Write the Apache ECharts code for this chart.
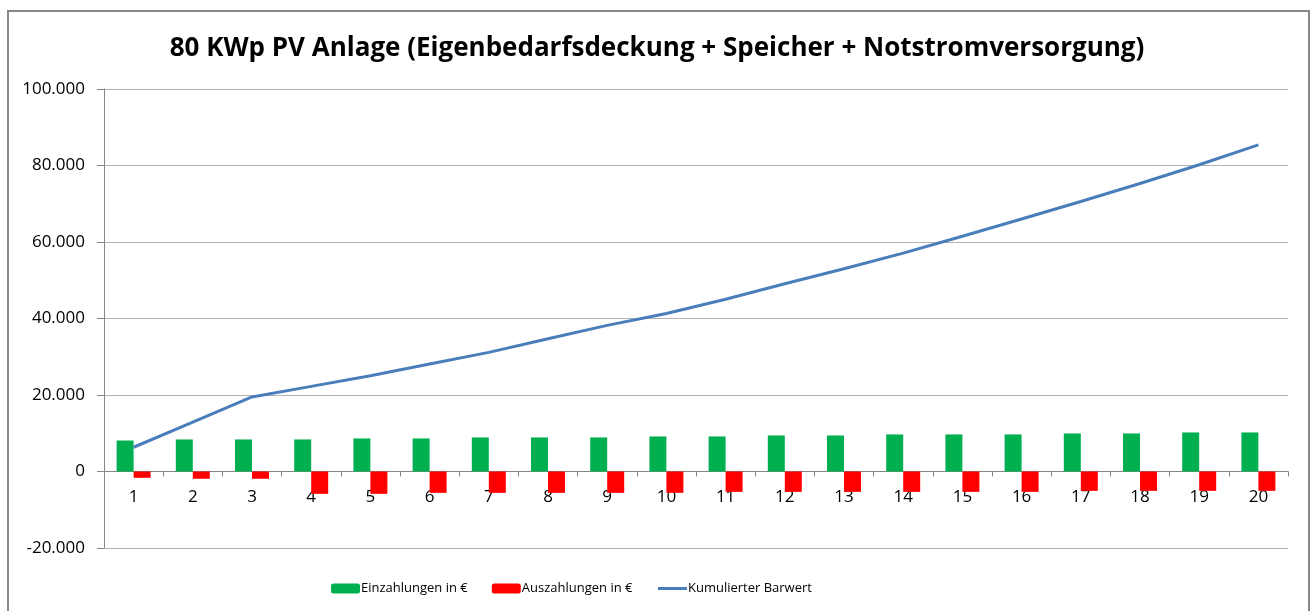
<!DOCTYPE html>
<html>
<head>
<meta charset="utf-8">
<script src="https://cdn.jsdelivr.net/npm/echarts@6/dist/echarts.min.js"></script>
<style>
html,body{margin:0;padding:0;background:#fff;}
#chart{width:1314px;height:611px;}
</style>
</head>
<body>
<div id="chart"></div>
<script>
const titleText = '80 KWp PV Anlage (Eigenbedarfsdeckung + Speicher + Notstromversorgung)';
const categories = ['1','2','3','4','5','6','7','8','9','10','11','12','13','14','15','16','17','18','19','20'];
const einzahlungen = [8100, 8380, 8380, 8380, 8640, 8640, 8900, 8900, 8900, 9160, 9160, 9420, 9420, 9690, 9690, 9690, 9950, 9950, 10210, 10210];
const auszahlungen = [-1650, -1900, -1900, -5840, -5840, -5580, -5580, -5580, -5580, -5580, -5320, -5320, -5320, -5320, -5320, -5320, -5060, -5060, -5060, -5060];
const barwert = [6340, 12900, 19490, 22250, 25050, 28100, 31140, 34700, 38200, 41300, 45050, 49100, 53000, 57100, 61500, 66000, 70600, 75300, 80200, 85400];
const seriesNames = ['Einzahlungen in €', 'Auszahlungen in €', 'Kumulierter Barwert'];
const yMin = -20000, yMax = 100000, yStep = 20000;

function fmt(v){
  const neg = v < 0; let s = String(Math.abs(v));
  s = s.replace(/\B(?=(\d{3})+(?!\d))/g, '.');
  return (neg ? '-' : '') + s;
}
const FONT = "'Open Sans', 'Noto Sans', sans-serif";
const gridTop = 89, gridBottom = 63, H = 611;
const plotH = H - gridTop - gridBottom;
const zeroOffset = -plotH * (0 - yMin) / (yMax - yMin);

const chart = echarts.init(document.getElementById('chart'), null, {renderer:'canvas'});
chart.setOption({
  animation: false,
  backgroundColor: '#ffffff',
  graphic: [{
    type: 'rect', z: -1,
    shape: {x: 8, y: 11, width: 1301, height: 640},
    style: {fill: 'none', stroke: '#878787', lineWidth: 2}
  }],
  title: {
    text: titleText, left: 'center', top: 31,
    textStyle: {fontFamily: FONT, fontWeight: 'bold', fontSize: 26, color: '#000'}
  },
  legend: {
    left: 326, top: 577,
    itemWidth: 29, itemHeight: 10, itemGap: 24,
    textStyle: {fontFamily: FONT, fontSize: 13, color: '#000', padding: [0,0,0,-4]},
    data: [
      {name: seriesNames[0]},
      {name: seriesNames[1]},
      {name: seriesNames[2], itemStyle: {color: 'rgba(0,0,0,0)', borderWidth: 0}, lineStyle: {color: '#4A7EBB', width: 3}}
    ]
  },
  grid: {left: 104, right: 26, top: gridTop, bottom: gridBottom, containLabel: false},
  xAxis: {
    type: 'category', data: categories,
    offset: zeroOffset,
    axisLine: {onZero: false, lineStyle: {color: '#868686', width: 1}},
    axisTick: {show: true, alignWithLabel: false, interval: 0, length: 5, lineStyle: {color: '#868686'}},
    axisLabel: {fontFamily: FONT, fontSize: 17, color: '#000', margin: 17, interval: 0},
    splitLine: {show: false}
  },
  yAxis: {
    type: 'value', min: yMin, max: yMax, interval: yStep,
    axisLine: {show: true, lineStyle: {color: '#868686', width: 1}},
    axisTick: {show: true, length: 7, lineStyle: {color: '#868686'}},
    axisLabel: {fontFamily: FONT, fontSize: 17, color: '#000', margin: 19, formatter: fmt},
    splitLine: {show: true, lineStyle: {color: '#b3b3b3', width: 1}}
  },
  series: [
    {name: seriesNames[0], type: 'bar', data: einzahlungen, barWidth: 17, barGap: '0%',
     itemStyle: {color: '#00B050'}},
    {name: seriesNames[1], type: 'bar', data: auszahlungen, barWidth: 17, barGap: '0%',
     itemStyle: {color: '#FF0000'}},
    {name: seriesNames[2], type: 'line', data: barwert, symbol: 'none', showSymbol: false,
     lineStyle: {color: '#4A7EBB', width: 3}, itemStyle: {color: '#4A7EBB'}, z: 5}
  ]
});
</script>
</body>
</html>
